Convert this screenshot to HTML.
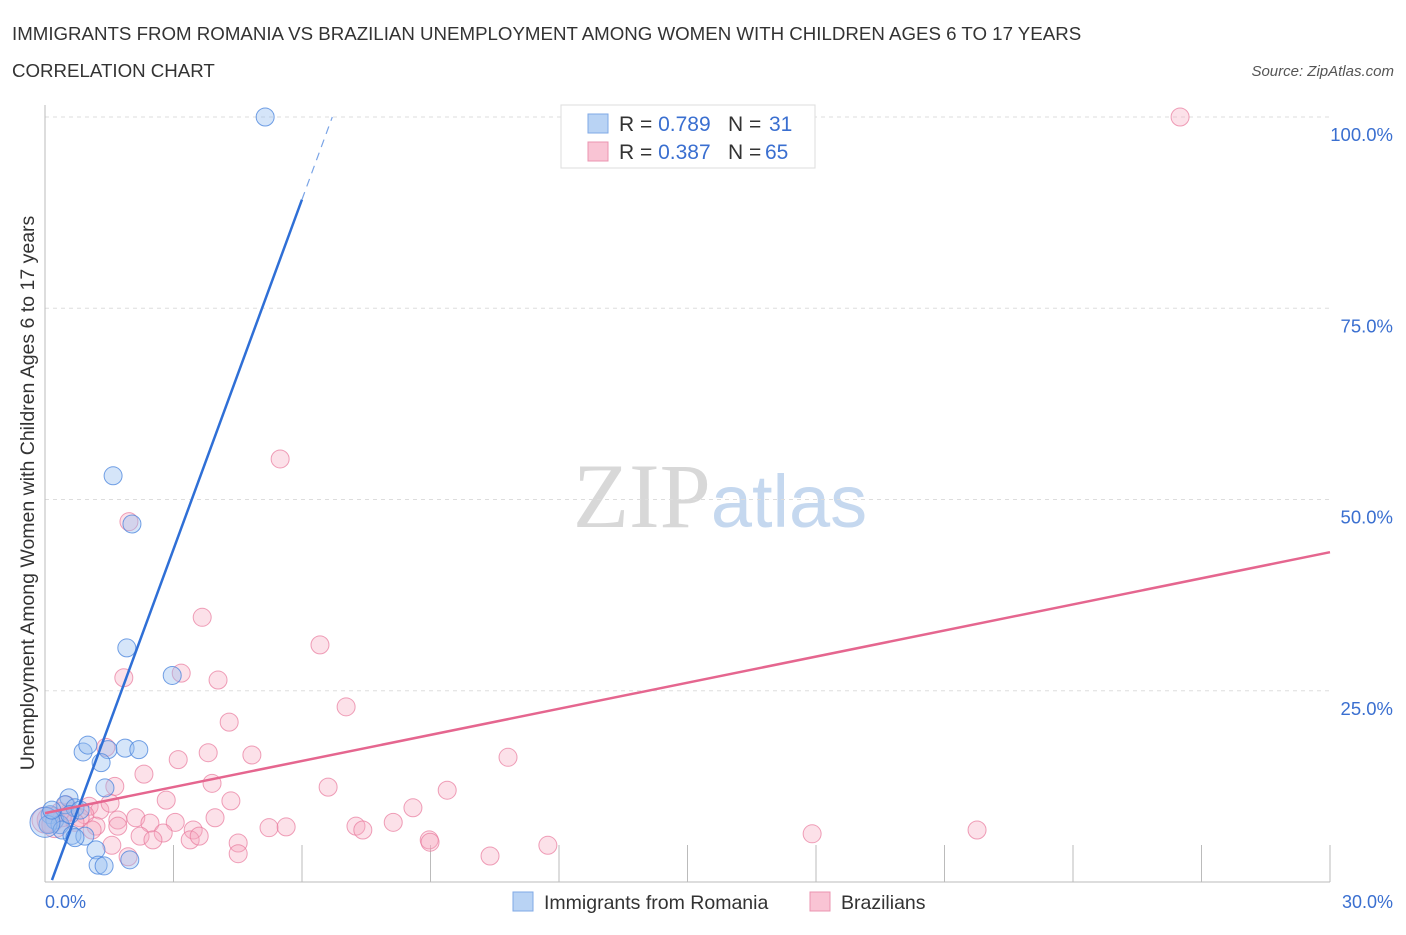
<!DOCTYPE html>
<html><head><meta charset="utf-8"><style>
body{margin:0;background:#fff;font-family:"Liberation Sans",sans-serif;}
svg text{font-family:"Liberation Sans",sans-serif;}
</style></head><body>
<svg id="chart" width="1406" height="930" xmlns="http://www.w3.org/2000/svg">
<text x="12" y="40" font-size="18.7" fill="#333">IMMIGRANTS FROM ROMANIA VS BRAZILIAN UNEMPLOYMENT AMONG WOMEN WITH CHILDREN AGES 6 TO 17 YEARS</text>
<text x="12" y="77" font-size="18.7" fill="#333">CORRELATION CHART</text>
<text x="1394" y="76" font-size="15" fill="#555" text-anchor="end" font-style="italic">Source: ZipAtlas.com</text>
<text x="720" y="527" font-size="92" text-anchor="middle"><tspan fill="#d8d8d8" font-family="Liberation Serif">ZIP</tspan><tspan fill="#c5d8ef" font-size="74">atlas</tspan></text>
<g id="grid"></g>
<g id="marks"></g>
<text transform="translate(34,493) rotate(-90)" font-size="19.5" fill="#333" text-anchor="middle">Unemployment Among Women with Children Ages 6 to 17 years</text>
<text x="45" y="908" font-size="18" fill="#3a6fd0">0.0%</text>
<text x="1393" y="908" font-size="18" fill="#3a6fd0" text-anchor="end">30.0%</text>
<g>
<rect x="561" y="105" width="254" height="63" fill="#fff" stroke="#ddd"/>
<rect x="588" y="114" width="20" height="19" fill="#b9d3f4" stroke="#7fa8e6"/>
<rect x="588" y="142" width="20" height="19" fill="#f9c4d4" stroke="#eb94b0"/>
<text x="619" y="131" font-size="21" fill="#333">R = <tspan fill="#3a6fd0">0.789</tspan><tspan x="728">N = </tspan><tspan x="769" fill="#3a6fd0">31</tspan></text>
<text x="619" y="159" font-size="21" fill="#333">R = <tspan fill="#3a6fd0">0.387</tspan><tspan x="728">N = </tspan><tspan x="765" fill="#3a6fd0">65</tspan></text>
</g>
<g>
<rect x="513" y="892" width="20" height="19" fill="#b9d3f4" stroke="#7fa8e6"/>
<text x="544" y="909" font-size="19.5" fill="#333">Immigrants from Romania</text>
<rect x="810" y="892" width="20" height="19" fill="#f9c4d4" stroke="#eb94b0"/>
<text x="841" y="909" font-size="19.5" fill="#333">Brazilians</text>
</g>
</svg>
<script>
const yTicks=[25,50,75,100];
const yTickLabels=["25.0%","50.0%","75.0%","100.0%"];
const xTicks=[3,6,9,12,15,18,21,24,27,30];
const blueX=[5.14,1.59,2.03,1.91,2.97,0.89,1.0,1.47,1.87,2.19,1.31,1.4,0.56,0.47,0.7,0.12,0.23,0.35,0.07,0.4,0.63,0.93,0.7,1.19,1.24,1.38,1.98,0,0.58,0.16,0.82];
const blueY=[100,53.1,46.8,30.6,27.0,17.0,17.9,17.3,17.5,17.3,15.6,12.3,11.0,10.1,9.7,8.8,8.1,7.5,7.5,6.8,6.1,6.0,5.8,4.2,2.2,2.1,2.9,7.8,8.8,9.4,9.4];
const pinkX=[26.5,5.49,1.96,3.67,6.42,3.18,1.84,4.04,7.03,4.30,3.81,4.83,3.11,10.81,1.42,2.31,1.63,3.90,6.61,9.39,2.83,4.34,1.03,8.59,1.28,0.58,0.93,2.12,1.70,3.97,3.04,2.45,8.13,7.26,7.42,5.23,5.63,3.46,2.22,3.39,3.60,2.76,2.52,4.51,8.97,8.99,11.74,4.51,10.39,1.94,17.91,21.76,1.19,0.82,0.35,0.12,0,0.70,1.56,0.23,0.49,1.10,1.52,1.70,0.40];
const pinkY=[100,55.3,47.1,34.6,31.0,27.3,26.7,26.4,22.9,20.9,16.9,16.6,16.0,16.3,17.6,14.1,12.5,12.9,12.4,12.0,10.7,10.6,9.9,9.7,9.4,9.2,8.8,8.4,8.1,8.4,7.8,7.7,7.8,7.3,6.8,7.1,7.2,6.8,6.0,5.5,6.0,6.4,5.5,5.1,5.5,5.2,4.8,3.7,3.4,3.3,6.3,6.8,7.3,8.4,9.2,8.1,8.1,7.8,4.8,7.5,10.1,6.8,10.3,7.3,8.4];
const blueFit=[-2.22,15.24];
const pinkFit=[9.0,1.137];
const X=v=>45+v*(1285/30);
const Y=v=>882-v*(765/100);
const NS="http://www.w3.org/2000/svg";
function mk(tag,attrs,parent){const e=document.createElementNS(NS,tag);for(const k in attrs)e.setAttribute(k,attrs[k]);parent.appendChild(e);return e;}
const grid=document.getElementById('grid'),marks=document.getElementById('marks');
yTicks.forEach((t,i)=>{
 const l=mk('line',{x1:45,x2:1330,y1:Y(t),y2:Y(t),stroke:'#ddd','stroke-dasharray':'4,4'},grid);
 
 
 const tx=mk('text',{x:1393,y:Y(t)+24,'font-size':18.5,fill:'#3a6fd0','text-anchor':'end'},grid);
 tx.textContent=yTickLabels[i];
 
 
});
const ax=mk('line',{x1:45,x2:45,y1:105,y2:882,stroke:'#bbb'},grid);


const bx=mk('line',{x1:45,x2:1330,y1:882,y2:882,stroke:'#bbb'},grid);


xTicks.forEach(t=>{
 const l=mk('line',{x1:X(t),x2:X(t),y1:845,y2:882,stroke:'#bbb'},grid);
 
 
});
pinkX.forEach((x,i)=>{
 const c=mk('circle',{cx:X(x),cy:Y(pinkY[i]),r:(x<0.3?13:9),fill:'rgba(247,168,192,0.35)',stroke:'rgba(232,120,155,0.7)','stroke-width':1},marks);
 
 
});
blueX.forEach((x,i)=>{
 const c=mk('circle',{cx:X(x),cy:Y(blueY[i]),r:(x<0.05?15:9),fill:'rgba(150,190,240,0.4)',stroke:'rgba(70,130,220,0.75)','stroke-width':1},marks);
 
 
});
const bx0=(0.26-blueFit[0])/blueFit[1], bx1=(89.2-blueFit[0])/blueFit[1], bx2=(100-blueFit[0])/blueFit[1];
const bl=mk('line',{x1:X(bx0),y1:Y(blueFit[0]+blueFit[1]*bx0),x2:X(bx1),y2:Y(blueFit[0]+blueFit[1]*bx1),stroke:'#2f6fd6','stroke-width':2.5},marks);


const bd=mk('line',{x1:X(bx1),y1:Y(blueFit[0]+blueFit[1]*bx1),x2:X(bx2),y2:Y(100),stroke:'#7aa4e6','stroke-width':1.2,'stroke-dasharray':'8,6'},marks);


const pl=mk('line',{x1:X(0),y1:Y(pinkFit[0]),x2:X(30),y2:Y(pinkFit[0]+pinkFit[1]*30),stroke:'#e5668f','stroke-width':2.5},marks);


</script>
</body></html>
